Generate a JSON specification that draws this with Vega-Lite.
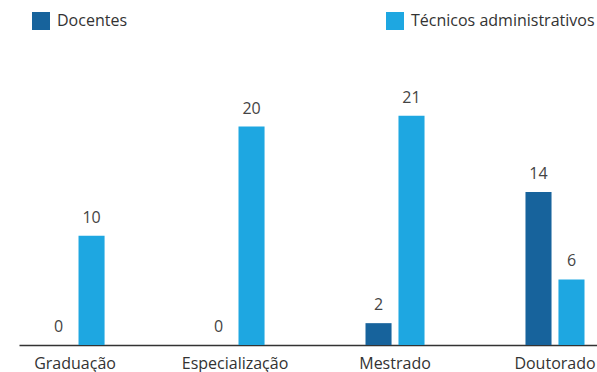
{
  "$schema": "https://vega.github.io/schema/vega-lite/v6.json",
  "width": 578,
  "height": 273,
  "autosize": "none",
  "padding": {"left": 19, "top": 72, "right": 0, "bottom": 27},
  "background": "white",
  "config": {
    "view": {"stroke": null},
    "font": "Open Sans",
    "text": {"font": "Open Sans"}
  },
  "data": {
    "values": [
      {"nivel": "Graduação", "grupo": "Docentes", "valor": 0},
      {"nivel": "Graduação", "grupo": "Técnicos administrativos", "valor": 10},
      {"nivel": "Especialização", "grupo": "Docentes", "valor": 0},
      {"nivel": "Especialização", "grupo": "Técnicos administrativos", "valor": 20},
      {"nivel": "Mestrado", "grupo": "Docentes", "valor": 2},
      {"nivel": "Mestrado", "grupo": "Técnicos administrativos", "valor": 21},
      {"nivel": "Doutorado", "grupo": "Docentes", "valor": 14},
      {"nivel": "Doutorado", "grupo": "Técnicos administrativos", "valor": 6}
    ]
  },
  "encoding": {
    "x": {
      "field": "nivel",
      "type": "nominal",
      "sort": ["Graduação", "Especialização", "Mestrado", "Doutorado"],
      "scale": {"paddingInner": 0.631, "paddingOuter": 0.122, "align": 0.68},
      "axis": {
        "title": null,
        "labelAngle": 0,
        "ticks": false,
        "domainColor": "#333333",
        "domainWidth": 1.5,
        "labelColor": "#333333",
        "labelFontSize": 16,
        "labelPadding": 10,
        "labelFont": "Open Sans",
        "labelLimit": 300
      }
    },
    "xOffset": {
      "field": "grupo",
      "type": "nominal",
      "sort": ["Docentes", "Técnicos administrativos"],
      "scale": {"paddingInner": 0.21, "paddingOuter": 0}
    },
    "y": {
      "field": "valor",
      "type": "quantitative",
      "scale": {"domain": [0, 25], "nice": false},
      "axis": null
    }
  },
  "layer": [
    {
      "mark": {"type": "bar"},
      "encoding": {
        "color": {
          "field": "grupo",
          "type": "nominal",
          "sort": ["Docentes", "Técnicos administrativos"],
          "scale": {"range": ["#17639c", "#1ea7e1"]},
          "legend": {
            "title": null,
            "orient": "none",
            "legendX": 13,
            "legendY": -60,
            "direction": "horizontal",
            "symbolType": "square",
            "symbolSize": 324,
            "symbolStrokeWidth": 0,
            "symbolOpacity": 1,
            "labelFontSize": 16,
            "labelColor": "#333333",
            "labelFont": "Open Sans",
            "labelOffset": 7,
            "labelLimit": 300,
            "columnPadding": 258
          }
        }
      }
    },
    {
      "mark": {"type": "text", "baseline": "bottom", "dy": -10, "fontSize": 16, "color": "#444444", "font": "Open Sans"},
      "encoding": {
        "text": {"field": "valor", "type": "quantitative"}
      }
    }
  ]
}
